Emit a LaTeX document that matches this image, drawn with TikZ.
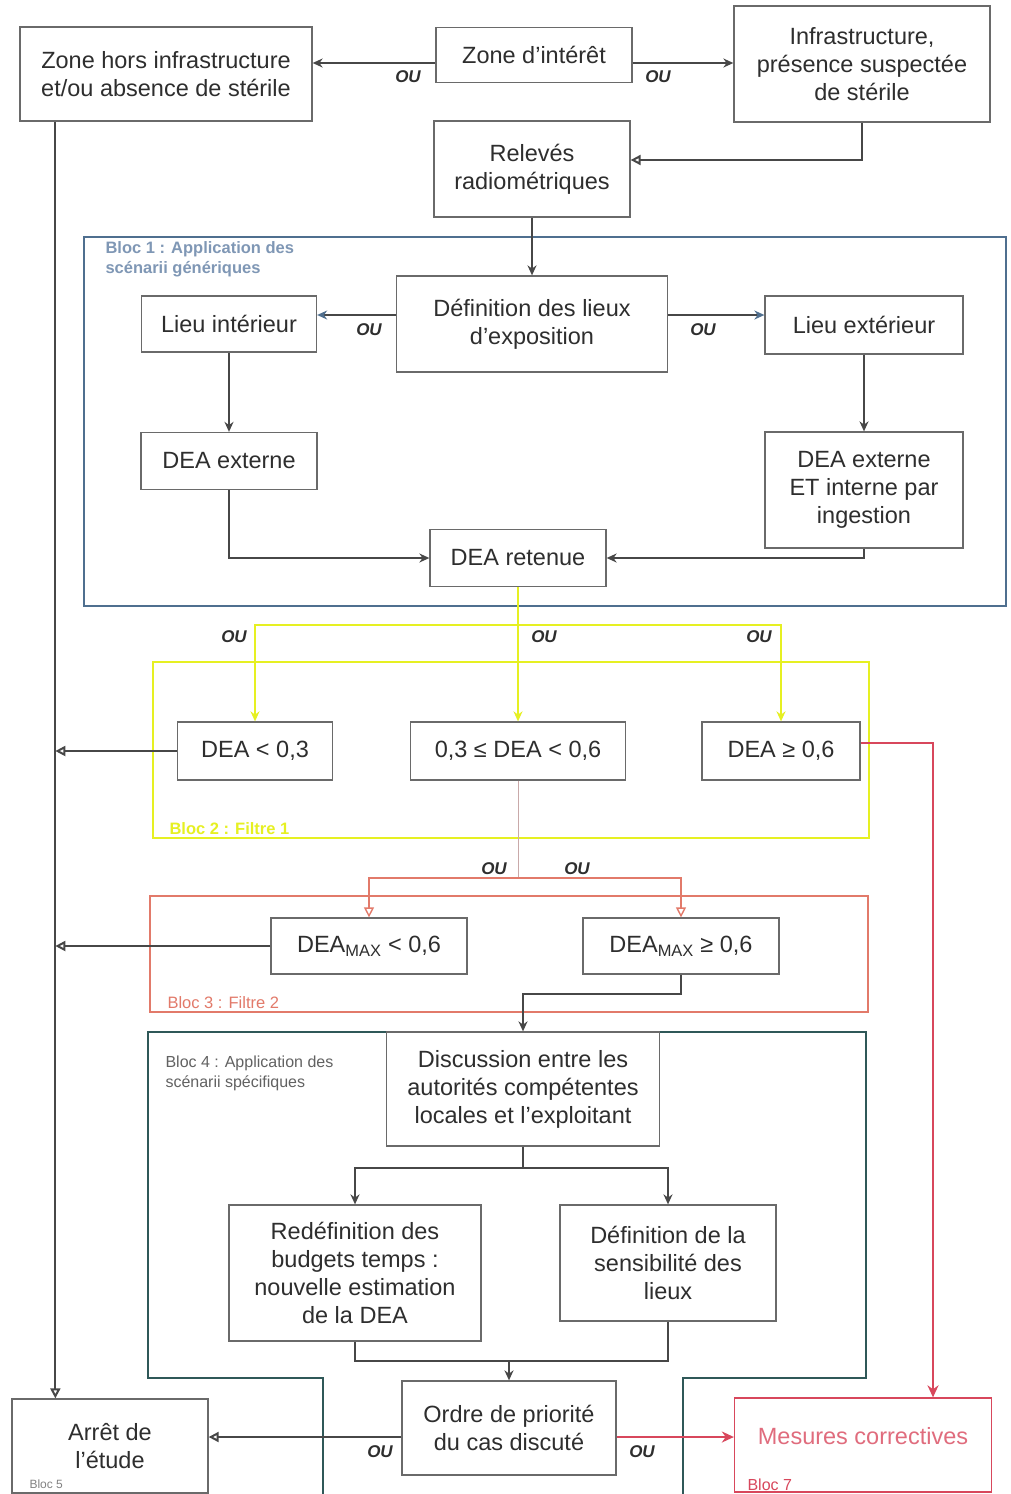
\documentclass[tikz,border=0pt]{standalone}
\usepackage{fontspec}
\setmainfont{Liberation Sans}
\usepackage{tikz}
\usetikzlibrary{calc,arrows.meta}
\definecolor{ink}{HTML}{2E2E2E}
\definecolor{boxline}{HTML}{6A6A6A}
\definecolor{wire}{HTML}{474747}
\definecolor{steel}{HTML}{4F6F8F}
\definecolor{steellab}{HTML}{7F97B5}
\definecolor{lime}{HTML}{E6F022}
\definecolor{salmon}{HTML}{E27A6A}
\definecolor{alert}{HTML}{D8475C}
\definecolor{teal}{HTML}{2F5858}
\definecolor{pale}{HTML}{C9A9A9}
\tikzset{
  box/.style={draw=boxline, fill=white, line width=1.3pt, text=ink, align=center, inner sep=2pt, font=\fontsize{23.5}{28}\selectfont},
  conn/.style={draw=wire, line width=2pt},
  arr/.style={conn, -{Stealth[length=10pt,width=9pt]}},
  oarr/.style={conn, -{Triangle[open,length=10pt,width=10pt]}},
  blarr/.style={conn, -{Stealth[length=10pt,width=9pt,color=steel]}},
  yarr/.style={draw=lime, line width=1.4pt, -{Stealth[length=10pt,width=9pt]}},
  sarr/.style={draw=salmon, line width=1.4pt, -{Triangle[open,length=10pt,width=10pt]}},
  rarr/.style={draw=alert, line width=2.6pt, -{Stealth[length=12pt,width=11pt]}},
  frame/.style={line width=2.4pt},
  ou/.style={text=ink, font=\fontsize{17}{20}\selectfont\bfseries\itshape},
  bloclab/.style={anchor=north west, align=left, font=\fontsize{16.5}{20}\selectfont\bfseries},
}
\begin{document}
\begin{tikzpicture}[x=1pt,y=-1pt]
  \useasboundingbox[fill=white] (0,0) rectangle (1010,1494);
  % frames
  \draw[frame,steel] (84,237) rectangle (1006,606);
  \draw[frame,lime] (153,662) rectangle (869,838);
  \draw[frame,salmon] (150,896) rectangle (868,1012);
  \draw[frame,teal] (323,1494) -- (323,1378) -- (148,1378) -- (148,1032) -- (866,1032) -- (866,1378) -- (683,1378) -- (683,1494);
  \node[bloclab,text=steellab] (lab1) at (102,238) {Bloc 1 : Application des\\scénarii génériques};
  \node[bloclab,text=lime,anchor=south west] (lab2) at (166,838) {Bloc 2 : Filtre 1};
  \node[bloclab,text=salmon,anchor=south west,font=\fontsize{16.5}{20}\selectfont] (lab3) at (164,1012) {Bloc 3 : Filtre 2};
  \node[bloclab,text=ink!75,font=\fontsize{16}{20}\selectfont] (lab4) at (162,1052) {Bloc 4 : Application des\\scénarii spécifiques};
  % boxes
  \node[box, minimum width=292pt, minimum height=94pt] (zhors) at (166,74) {Zone hors infrastructure\\et/ou absence de stérile};
  \node[box, minimum width=196pt, minimum height=55pt] (zint) at (534,55) {Zone d'intérêt};
  \node[box, minimum width=256pt, minimum height=116pt] (infra) at (862,64) {Infrastructure,\\présence suspectée\\de stérile};
  \node[box, minimum width=196pt, minimum height=96pt] (releves) at (532,169) {Relevés\\radiométriques};
  \node[box, minimum width=271pt, minimum height=96pt] (def) at (532,324) {Définition des lieux\\d'exposition};
  \node[box, minimum width=175pt, minimum height=56pt] (lint) at (229,324) {Lieu intérieur};
  \node[box, minimum width=198pt, minimum height=58pt] (lext) at (864,325) {Lieu extérieur};
  \node[box, minimum width=176pt, minimum height=57pt] (dext) at (229,461) {DEA externe};
  \node[box, minimum width=198pt, minimum height=116pt] (dei) at (864,490) {DEA externe\\ET interne par\\ingestion};
  \node[box, minimum width=176pt, minimum height=57pt] (dret) at (518,558) {DEA retenue};
  \node[box, minimum width=155pt, minimum height=58pt] (d1) at (255,751) {DEA < 0,3};
  \node[box, minimum width=215pt, minimum height=58pt] (d2) at (518,751) {0,3 ≤ DEA < 0,6};
  \node[box, minimum width=158pt, minimum height=58pt] (d3) at (781,751) {DEA ≥ 0,6};
  \node[box, minimum width=196pt, minimum height=56pt] (m1) at (369,946) {DEA\textsubscript{MAX} < 0,6};
  \node[box, minimum width=196pt, minimum height=56pt] (m2) at (681,946) {DEA\textsubscript{MAX} ≥ 0,6};
  \node[box, minimum width=273pt, minimum height=114pt] (disc) at (523,1089) {Discussion entre les\\autorités compétentes\\locales et l'exploitant};
  \node[box, minimum width=252pt, minimum height=136pt] (redef) at (355,1273) {Redéfinition des\\budgets temps :\\nouvelle estimation\\de la DEA};
  \node[box, minimum width=216pt, minimum height=116pt] (sens) at (668,1263) {Définition de la\\sensibilité des\\lieux};
  \node[box, minimum width=214pt, minimum height=94pt] (ordre) at (509,1428) {Ordre de priorité\\du cas discuté};
  \node[box, minimum width=196pt, minimum height=94pt] (arret) at (110,1446) {Arrêt de\\l'étude};
  \node[box, draw=alert, text=alert!80, minimum width=257pt, minimum height=94pt] (mesures) at (863,1445) {\raisebox{18pt}{Mesures correctives}};
  \node[bloclab,anchor=south west,text=ink!60,font=\fontsize{12}{14}\selectfont] (lab5) at (26,1492) {Bloc 5};
  \node[bloclab,anchor=south west,text=alert,font=\fontsize{16}{18}\selectfont] (lab7) at (744,1494) {Bloc 7};
  % connectors
  \coordinate (vtop) at ([xshift=36pt]zhors.south west);
  \coordinate (vbot) at ([xshift=44pt]arret.north west);
  \draw[arr] ([yshift=-8pt]zint.west) -- ([yshift=-8pt]zint.west -| zhors.east);
  \draw[arr] ([yshift=-8pt]zint.east) -- ([yshift=-8pt]zint.east -| infra.west);
  \draw[oarr] (infra.south) |- ([yshift=9pt]releves.east);
  \draw[arr] (releves.south) -- (def.north);
  \draw[blarr] ([yshift=9pt]def.west) -- ([yshift=9pt]def.west -| lint.east);
  \draw[blarr] ([yshift=9pt]def.east) -- ([yshift=9pt]def.east -| lext.west);
  \draw[arr] (lint.south) -- (dext.north);
  \draw[arr] (lext.south) -- (dei.north);
  \draw[arr] (dext.south) |- (dret.west);
  \draw[arr] (dei.south) |- (dret.east);
  \coordinate (yj) at (dret.south |- 0,625);
  \draw[draw=lime, line width=1.4pt] (dret.south) -- (yj);
  \draw[yarr] (yj) -| (d1.north);
  \draw[yarr] (yj) -- (d2.north);
  \draw[yarr] (yj) -| (d3.north);
  \draw[oarr] (vtop) -- (vbot);
  \draw[oarr] (d1.west) -- (d1.west -| vtop);
  \coordinate (rj) at (d2.south |- 0,878);
  \draw[draw=pale, line width=1pt] (d2.south) -- (rj);
  \draw[sarr] (rj) -| (m1.north);
  \draw[sarr] (rj) -| (m2.north);
  \draw[oarr] (m1.west) -- (m1.west -| vtop);
  \draw[rarr] ([yshift=8pt]d3.east) -| ([xshift=70pt]mesures.north);
  \draw[arr] (m2.south) -- ++(0,19) -| (disc.north);
  \draw[arr] (disc.south) -- ++(0,21) -| (redef.north);
  \draw[arr] (disc.south) -- ++(0,21) -| (sens.north);
  \coordinate (oj) at (ordre.north |- 0,1361);
  \draw[conn] (redef.south) |- (oj) -| (sens.south);
  \draw[arr] (oj) -- (ordre.north);
  \draw[oarr] ([yshift=-9pt]ordre.west) -- ([yshift=-9pt]ordre.west -| arret.east);
  \draw[rarr] ([yshift=-9pt]ordre.east) -- ([yshift=-9pt]ordre.east -| mesures.west);
  % OU labels
  \node[ou] (ou1) at (408,77) {OU};
  \node[ou] (ou2) at (658,77) {OU};
  \node[ou] (ou3) at (369,330) {OU};
  \node[ou] (ou4) at (703,330) {OU};
  \node[ou] (ou5) at (234,637) {OU};
  \node[ou] (ou6) at (544,637) {OU};
  \node[ou] (ou7) at (759,637) {OU};
  \node[ou] (ou8) at (494,869) {OU};
  \node[ou] (ou9) at (577,869) {OU};
  \node[ou] (ou10) at (380,1452) {OU};
  \node[ou] (ou11) at (642,1452) {OU};
\end{tikzpicture}
\end{document}
